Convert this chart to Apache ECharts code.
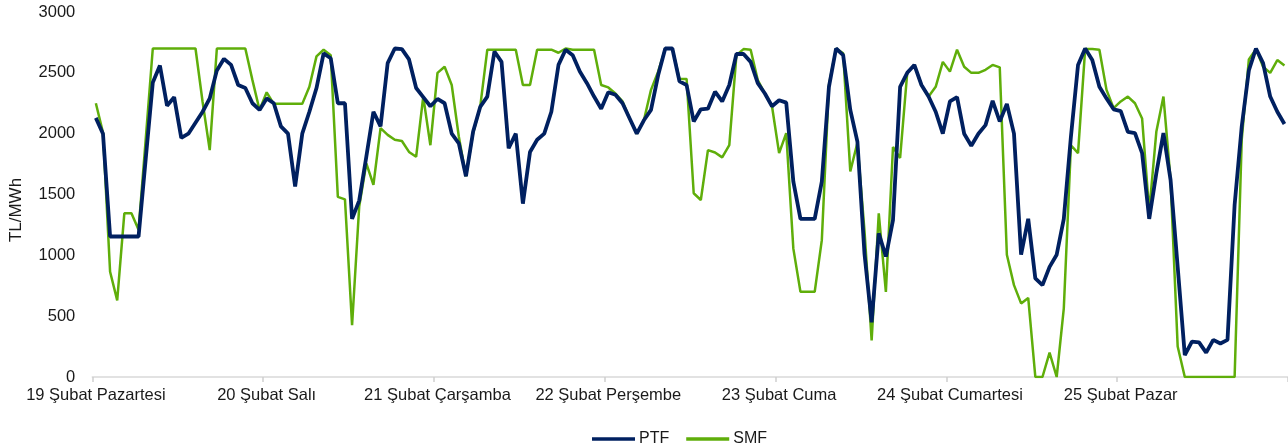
<!DOCTYPE html>
<html>
<head>
<meta charset="utf-8">
<script src="https://cdn.jsdelivr.net/npm/echarts@6/dist/echarts.min.js"></script>
<style>
  html, body { margin: 0; padding: 0; background: #fff; }
  #main { width: 1288px; height: 445px; }
</style>
</head>
<body>
<div id="main"></div>
<script>
// gün etiketleri (her gün 24 saat)
const days = ['19 Şubat Pazartesi', '20 Şubat Salı', '21 Şubat Çarşamba', '22 Şubat Perşembe',
              '23 Şubat Cuma', '24 Şubat Cumartesi', '25 Şubat Pazar'];

// saatlik PTF (TL/MWh)
const ptf = [
  2130, 2000, 1155, 1155, 1155, 1155, 1155, 1790, 2420, 2560, 2230, 2300, 1965, 2000, 2090, 2180, 2290, 2520, 2615, 2565, 2400, 2375, 2250, 2195,
  2290, 2250, 2060, 2000, 1565, 2000, 2180, 2375, 2660, 2620, 2250, 2250, 1300, 1450, 1810, 2180, 2060, 2580, 2700, 2695, 2610, 2375, 2300, 2225,
  2285, 2250, 2000, 1920, 1650, 2015, 2220, 2305, 2675, 2590, 1880, 2000, 1425, 1850, 1950, 2000, 2180, 2565, 2690, 2645, 2510, 2415, 2305, 2205,
  2340, 2320, 2250, 2125, 2000, 2110, 2195, 2480, 2700, 2700, 2430, 2400, 2100, 2200, 2205, 2345, 2265, 2400, 2655, 2655, 2590, 2415, 2330, 2225,
  2275, 2255, 1605, 1300, 1300, 1300, 1605, 2385, 2700, 2645, 2195, 1935, 1010, 450, 1180, 990, 1290, 2385, 2500, 2565, 2400, 2305, 2180, 2000,
  2265, 2300, 2000, 1900, 2000, 2070, 2270, 2100, 2245, 2000, 1005, 1300, 810, 755, 905, 1005, 1300, 1975, 2565, 2700, 2605, 2385, 2290, 2200,
  2185, 2015, 2005, 1840, 1300, 1675, 2005, 1620, 905, 180, 290, 285, 200, 305, 275, 305, 1415, 2060, 2520, 2700, 2580, 2305, 2180, 2080
];

// saatlik SMF (TL/MWh)
const smf = [
  2250, 2010, 865, 630, 1345, 1345, 1210, 1950, 2700, 2700, 2700, 2700, 2700, 2700, 2700, 2260, 1865, 2700, 2700, 2700, 2700, 2700, 2440, 2195,
  2340, 2245, 2245, 2245, 2245, 2245, 2385, 2635, 2690, 2645, 1480, 1460, 425, 1400, 1755, 1580, 2045, 1990, 1950, 1940, 1850, 1810, 2305, 1905,
  2500, 2550, 2400, 1975, 1650, 2005, 2220, 2690, 2690, 2690, 2690, 2690, 2400, 2400, 2690, 2690, 2690, 2665, 2700, 2690, 2690, 2690, 2690, 2400,
  2380, 2330, 2265, 2125, 2000, 2110, 2360, 2510, 2700, 2700, 2450, 2450, 1510, 1455, 1865, 1845, 1805, 1905, 2645, 2695, 2690, 2440, 2330, 2225,
  1840, 2005, 1055, 700, 700, 700, 1125, 2400, 2700, 2660, 1690, 1925, 1200, 300, 1345, 700, 1890, 1800, 2500, 2565, 2400, 2305, 2385, 2590,
  2510, 2690, 2550, 2500, 2500, 2525, 2565, 2545, 1005, 755, 605, 650, 0, 0, 200, 0, 565, 1905, 1840, 2695, 2695, 2690, 2360, 2210,
  2265, 2305, 2250, 2125, 1360, 2015, 2305, 1620, 250, 0, 0, 0, 0, 0, 0, 0, 0, 1950, 2610, 2695, 2550, 2500, 2605, 2560
];

// y ekseni
const yMin = 0, yMax = 3000, yStep = 500;

// kategori: gün + saat
const categories = [];
days.forEach(d => {
  for (let h = 0; h < 24; h++) categories.push(d + ' ' + String(h).padStart(2, '0') + ':00');
});

const chart = echarts.init(document.getElementById('main'));
const textColor = '#1a1a1a';
const font = 'Arial, "Liberation Sans", sans-serif';

chart.setOption({
  animation: false,
  grid: { left: 92.3, top: 12, width: 7.16 * categories.length, height: 365 },
  legend: {
    top: 426, left: 587, itemWidth: 43, itemHeight: 3.5, itemGap: 17, icon: 'rect',
    textStyle: { fontSize: 16, color: textColor, fontFamily: font, padding: [0, 0, 0, -1] },
    data: ['PTF', 'SMF']
  },
  xAxis: {
    type: 'category', data: categories, boundaryGap: true,
    axisLine: { lineStyle: { color: '#d9d9d9', width: 1.5 } },
    axisTick: { show: true, interval: 23, length: 5, lineStyle: { color: '#d0d0d0', width: 1.5 } },
    axisLabel: {
      interval: 23, margin: 10, fontSize: 16.5, color: textColor, fontFamily: font,
      formatter: v => v.slice(0, -6)
    },
    splitLine: { show: false }
  },
  yAxis: {
    type: 'value', min: yMin, max: yMax, interval: yStep,
    axisLine: { show: false }, axisTick: { show: false }, splitLine: { show: false },
    axisLabel: { margin: 17, fontSize: 16.5, color: textColor, fontFamily: font, formatter: v => String(v) }
  },
  graphic: [{
    type: 'text', x: 16, y: 210, rotation: Math.PI / 2,
    style: { text: 'TL/MWh', fontSize: 17, fill: textColor, fontFamily: font,
             align: 'center', verticalAlign: 'middle' }
  }],
  series: [
    { name: 'PTF', type: 'line', data: ptf, symbol: 'none', z: 3,
      itemStyle: { color: '#002060' }, lineStyle: { color: '#002060', width: 3.8 } },
    { name: 'SMF', type: 'line', data: smf, symbol: 'none', z: 2,
      itemStyle: { color: '#5fae0a' }, lineStyle: { color: '#5fae0a', width: 2.5 } }
  ]
});
</script>
</body>
</html>
